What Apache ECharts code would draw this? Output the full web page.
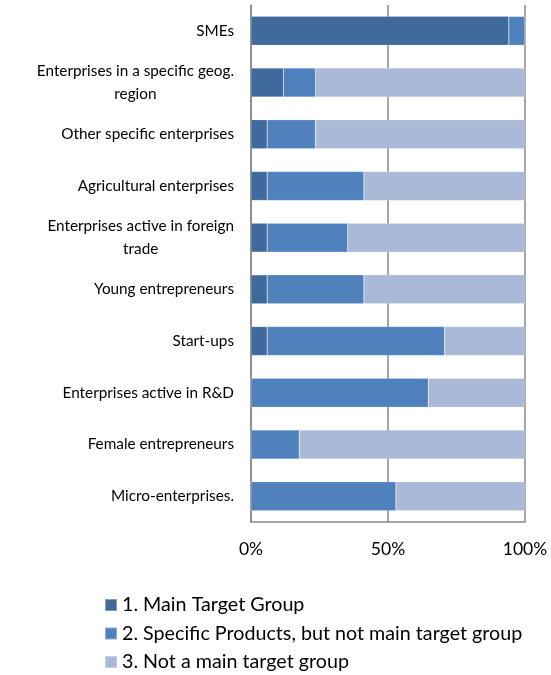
<!DOCTYPE html>
<html><head><meta charset="utf-8">
<script src="https://cdn.jsdelivr.net/npm/echarts@6/dist/echarts.min.js"></script>
<style>html,body{margin:0;padding:0;background:#fff}#c{width:551px;height:675px}</style>
</head><body><div id="c"></div>
<script>
var categories = [
  "SMEs",
  "Enterprises in a specific geog.\nregion",
  "Other specific enterprises",
  "Agricultural enterprises",
  "Enterprises active in foreign\ntrade",
  "Young entrepreneurs",
  "Start-ups",
  "Enterprises active in R&D",
  "Female entrepreneurs",
  "Micro-enterprises."
];
var mainTarget    = [94.1, 11.8, 5.9, 5.9, 5.9, 5.9, 5.9, 0, 0, 0];
var specificProd  = [5.9, 11.8, 17.6, 35.3, 29.4, 35.3, 64.7, 64.7, 17.6, 52.9];
var notTarget     = [0, 76.5, 76.5, 58.8, 64.7, 58.8, 29.4, 35.3, 82.4, 47.1];
var seriesNames = ["1. Main Target Group", "2. Specific Products, but not main target group", "3. Not a main target group"];
var tickLabels = {0: "0%", 50: "50%", 100: "100%"};

var FONT = "Lato";
var colors = ["#40699C", "#4F81BD", "#AAB9D7"];
var chart = echarts.init(document.getElementById('c'), null, {renderer: 'canvas'});
function mk(name, data, i) {
  return {
    name: name, type: 'bar', stack: 'all', data: data,
    barCategoryGap: '44%',
    itemStyle: {color: colors[i], borderColor: 'rgba(255,255,255,0.35)', borderWidth: 0.5},
    emphasis: {disabled: true}
  };
}
chart.setOption({
  animation: false,
  textStyle: {fontFamily: FONT},
  grid: {left: 251, right: 26, top: 5, bottom: 153, containLabel: false},
  xAxis: {
    type: 'value', min: 0, max: 100, interval: 50,
    axisLine: {show: true, lineStyle: {color: '#888', width: 1.5}},
    axisTick: {show: false},
    splitLine: {show: true, lineStyle: {color: '#888', width: 1.5}},
    axisLabel: {formatter: function(v){return tickLabels[v] || '';}, color: '#000', fontSize: 17.5, fontFamily: FONT, margin: 18}
  },
  yAxis: {
    type: 'category', inverse: true, data: categories,
    axisLine: {show: true, lineStyle: {color: '#888', width: 1.5}},
    axisTick: {show: false},
    axisLabel: {
      color: '#000', fontSize: 15.3, fontFamily: FONT, margin: 17, align: 'right',
      formatter: function(v){ return '{c|' + v + '}'; },
      rich: {c: {align: 'center', fontSize: 15.3, fontFamily: FONT, color: '#000', lineHeight: 23}}
    }
  },
  legend: {
    orient: 'vertical', left: 104, top: 594, padding: 0,
    itemWidth: 12, itemHeight: 12, itemGap: 6.5,
    icon: 'rect',
    textStyle: {fontSize: 19.7, fontFamily: FONT, color: '#000', lineHeight: 22},
    data: seriesNames
  },
  series: [mk(seriesNames[0], mainTarget, 0), mk(seriesNames[1], specificProd, 1), mk(seriesNames[2], notTarget, 2)]
});
</script></body></html>
